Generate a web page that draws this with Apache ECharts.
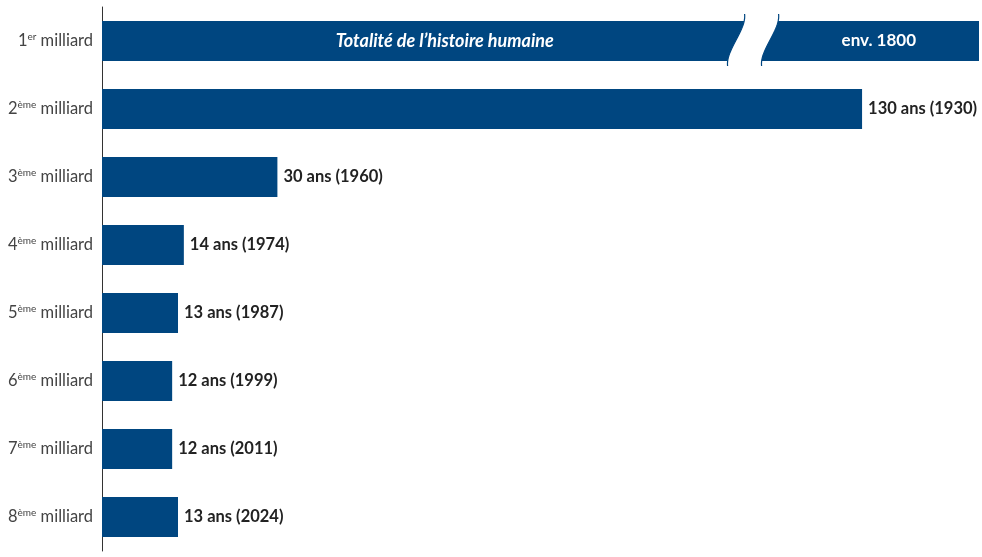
<!DOCTYPE html>
<html><head><meta charset="utf-8">
<script src="https://cdn.jsdelivr.net/npm/echarts@6/dist/echarts.min.js"></script>
<style>html,body{margin:0;padding:0;background:#fff}#c{width:982px;height:557px}</style>
</head><body><div id="c"></div>
<script>
const ordinals = ['1','2','3','4','5','6','7','8'];
const suffixes = ['er','ème','ème','ème','ème','ème','ème','ème'];
const values = [150, 130, 30, 14, 13, 12, 12, 13]; // first bar is truncated (broken axis)
const valueLabels = ['', '130 ans (1930)', '30 ans (1960)', '14 ans (1974)', '13 ans (1987)', '12 ans (1999)', '12 ans (2011)', '13 ans (2024)'];
const firstBarTexts = ['Totalité de l’histoire humaine', 'env. 1800'];
const breakAt = 107; // visual break position on the first bar
const categories = ordinals.map((o, i) => o + '|' + suffixes[i]);

(function () {
const COLOR = '#004680';
const FONT = 'Lato';
const chart = echarts.init(document.getElementById('c'));
chart.setOption({
  animation: false,
  grid: { left: 102, right: 3, top: 7, bottom: 6 },
  xAxis: { type: 'value', min: 0, max: 150, show: false },
  yAxis: {
    type: 'category', inverse: true, data: categories,
    axisLine: { show: true, lineStyle: { color: '#333', width: 1 } },
    axisTick: { show: false },
    axisLabel: {
      margin: 9,
      formatter: v => { const p = v.split('|'); return '{n|' + p[0] + '}{s|' + p[1] + '}{t| milliard}'; },
      rich: {
        n: { fontFamily: FONT, fontSize: 16.5, color: '#444' },
        s: { fontFamily: FONT, fontSize: 10, color: '#444', verticalAlign: 'top', padding: [0, 0, 9, 0] },
        t: { fontFamily: FONT, fontSize: 16.5, color: '#444' }
      }
    }
  },
  series: [{
    type: 'bar', barWidth: 40,
    data: values,
    itemStyle: { color: COLOR },
    label: {
      show: true, position: 'right', distance: 6,
      fontFamily: FONT, fontWeight: 'bold', fontSize: 16.5, color: '#222',
      formatter: p => valueLabels[p.dataIndex]
    }
  }]
});

const pBreak = chart.convertToPixel({ gridIndex: 0 }, [breakAt, 0]);
const pZero = chart.convertToPixel({ gridIndex: 0 }, [0, 0]);
const pEnd = chart.convertToPixel({ gridIndex: 0 }, [values[0], 0]);
const bx = pBreak[0], cy = pBreak[1];
const yTop = cy - 27, yBot = cy + 25, w = 34;
const lx0 = bx + 17, lx1 = bx;
function bez(x0, x1) {
  const p0 = [x0, yTop], p1 = [x0 + 2, yTop + 16], p2 = [x1 - 2, yBot - 16], p3 = [x1, yBot];
  const pts = [];
  for (let i = 0; i <= 24; i++) {
    const t = i / 24, u = 1 - t;
    pts.push([
      u*u*u*p0[0] + 3*u*u*t*p1[0] + 3*u*t*t*p2[0] + t*t*t*p3[0],
      u*u*u*p0[1] + 3*u*u*t*p1[1] + 3*u*t*t*p2[1] + t*t*t*p3[1]
    ]);
  }
  return pts;
}
const leftPts = bez(lx0, lx1);
const rightPts = bez(lx0 + w, lx1 + w);
const poly = leftPts.concat(rightPts.slice().reverse());
const leftCenter = pZero[0] + (bx - pZero[0]) / 2 + 30;
const rightCenter = (bx + 17 + w + pEnd[0]) / 2;
chart.setOption({
  graphic: [
    { type: 'polygon', shape: { points: poly }, style: { fill: '#fff' }, z: 100 },
    { type: 'polyline', shape: { points: leftPts }, style: { stroke: COLOR, lineWidth: 1.2, fill: null }, z: 101 },
    { type: 'polyline', shape: { points: rightPts }, style: { stroke: COLOR, lineWidth: 1.2, fill: null }, z: 101 },
    { type: 'text', x: leftCenter, y: cy, z: 102, style: { text: firstBarTexts[0], fill: '#fff', fontFamily: FONT, fontStyle: 'italic', fontWeight: 'bold', fontSize: 18, align: 'center', verticalAlign: 'middle' } },
    { type: 'text', x: rightCenter, y: cy, z: 102, style: { text: firstBarTexts[1], fill: '#fff', fontFamily: FONT, fontWeight: 'bold', fontSize: 17, align: 'center', verticalAlign: 'middle' } }
  ]
});
})();
</script></body></html>
